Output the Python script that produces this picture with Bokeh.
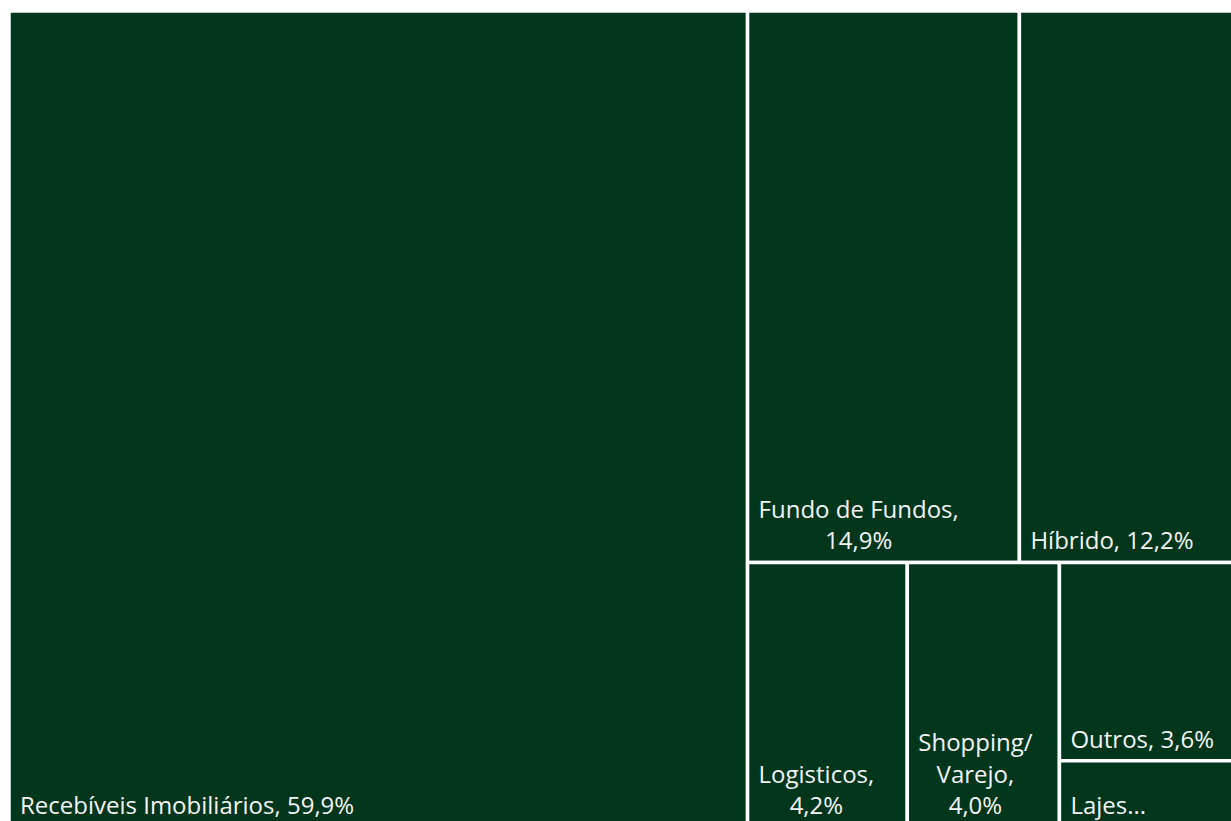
from bokeh.plotting import figure
from bokeh.models import Range1d, ColumnDataSource
from bokeh.core.properties import value
from bokeh.embed import file_html
from bokeh.resources import INLINE

# ---- data ----
categories = ["Recebíveis Imobiliários", "Fundo de Fundos", "Híbrido", "Logisticos",
              "Shopping/ Varejo", "Outros", "Lajes Corporativas"]
values = [59.9, 14.9, 12.2, 4.2, 4.0, 3.6, 1.2]
labels = ["Recebíveis Imobiliários, 59,9%", "Fundo de Fundos,\n14,9%", "Híbrido, 12,2%",
          "Logisticos,\n4,2%", "Shopping/\nVarejo,\n4,0%", "Outros, 3,6%", "Lajes..."]
# grouping of the treemap (indices into the lists above), alternating split direction
tree = [0, [[1, 2], [3, 4, [5, 6]]]]

FILL = "#00361B"


def total(node):
    if isinstance(node, int):
        return values[node]
    return sum(total(c) for c in node)


rects = {}


def layout(node, x0, y0, x1, y1, along_x):
    if isinstance(node, int):
        rects[node] = (x0, y0, x1, y1)
        return
    s = total(node)
    pos = x0 if along_x else y0
    for c in node:
        frac = total(c) / s
        if along_x:
            w = (x1 - x0) * frac
            layout(c, pos, y0, pos + w, y1, not along_x)
            pos += w
        else:
            h = (y1 - y0) * frac
            layout(c, x0, pos, x1, pos + h, not along_x)
            pos += h


layout(tree, 0.0, 0.0, 100.0, 100.0, True)

idx = list(range(len(values)))
src = ColumnDataSource(dict(
    left=[rects[i][0] for i in idx],
    right=[rects[i][2] for i in idx],
    top=[rects[i][1] for i in idx],
    bottom=[rects[i][3] for i in idx],
    label=[labels[i] for i in idx],
    name=[categories[i] for i in idx],
))

p = figure(width=1231, height=821, output_backend="svg", toolbar_location=None,
           x_range=Range1d(-0.689, 99.15), y_range=Range1d(99.33, -1.287),
           min_border_left=0, min_border_right=0, min_border_top=0, min_border_bottom=0)
p.axis.visible = False
p.grid.visible = False
p.outline_line_color = None
p.background_fill_color = "white"
p.border_fill_color = "white"

p.quad(left="left", right="right", top="top", bottom="bottom", source=src,
       fill_color=FILL, line_color="white", line_width=3.5)

p.text(x="left", y="bottom", text="label", source=src,
       text_font=value("Open Sans"), text_font_size="24px", text_color="#F4F4F4",
       text_align="center", anchor="bottom_left", text_line_height=0.95,
       x_offset=11, y_offset=-6)

open("out.html", "w").write(file_html(p, INLINE))
